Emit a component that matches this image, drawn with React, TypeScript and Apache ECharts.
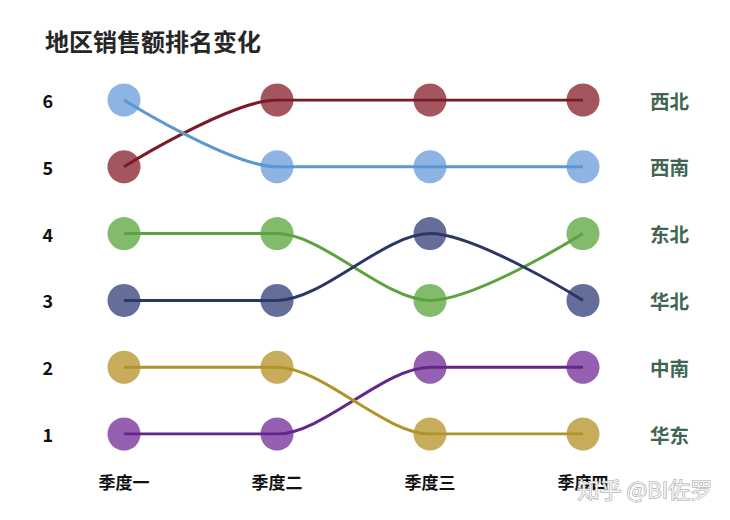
import React, { useEffect, useRef } from "react";
import * as echarts from "echarts";

// 季度与地区
const quarters = ["季度一", "季度二", "季度三", "季度四"];
const regions = ["西北", "西南", "东北", "华北", "中南", "华东"];

// 各地区每季度排名
const rankXiBei = [5, 6, 6, 6];
const rankXiNan = [6, 5, 5, 5];
const rankDongBei = [4, 4, 3, 4];
const rankHuaBei = [3, 3, 4, 3];
const rankZhongNan = [1, 1, 2, 2];
const rankHuaDong = [2, 2, 1, 1];

const ranks = [rankXiBei, rankXiNan, rankDongBei, rankHuaBei, rankZhongNan, rankHuaDong];

const lineColors = ["#7a1a26", "#5b98d2", "#5aa33f", "#2c3768", "#64258c", "#b0942a"];
const dotColors = ["#a3565d", "#8db4e3", "#82bb6c", "#656e9b", "#9660b2", "#c7ad5b"];

const font = "'Noto Sans CJK SC', 'Microsoft YaHei', sans-serif";

export default function App() {
	const chartRef = useRef<HTMLDivElement>(null);

	useEffect(() => {
		document.body.style.margin = "0";
		if (!chartRef.current) return;
		const chart = echarts.init(chartRef.current, undefined, { renderer: "svg" });

		// 圆点在下层
		const dotSeries = regions.map((name, i) => ({
			name: name + "-dot",
			type: "scatter" as const,
			data: ranks[i],
			symbolSize: 33,
			itemStyle: { color: dotColors[i], opacity: 1 },
			z: 1,
			silent: true,
		}));

		// 折线在上层
		const lineSeries = regions.map((name, i) => ({
			name,
			type: "line" as const,
			data: ranks[i],
			showSymbol: false,
			smooth: 0.3,
			smoothMonotone: "x",
			lineStyle: { color: lineColors[i], width: 3 },
			itemStyle: { color: lineColors[i] },
			z: 3,
			endLabel: {
				show: true,
				formatter: "{a}",
				distance: 67,
				color: "#3e6650",
				fontSize: 19.5,
				fontWeight: "bold",
				fontFamily: font,
			},
			silent: true,
		}));

		chart.setOption({
			animation: false,
			title: {
				text: "地区销售额排名变化",
				left: 40,
				top: 23,
				textStyle: { fontSize: 24, fontWeight: "bold", color: "#262626", fontFamily: font },
			},
			grid: { left: 124, right: 147, top: 100, bottom: 86 },
			xAxis: {
				type: "category",
				data: quarters,
				boundaryGap: false,
				axisLine: { show: false },
				axisTick: { show: false },
				axisLabel: { margin: 39, color: "#111", fontSize: 17, fontWeight: "bold", fontFamily: font },
				splitLine: { show: false },
			},
			yAxis: {
				type: "value",
				min: 1,
				max: 6,
				interval: 1,
				axisLine: { show: false },
				axisTick: { show: false },
				splitLine: { show: false },
				axisLabel: { margin: 71, color: "#111", fontSize: 18, fontWeight: "bold", fontFamily: font },
			},
			graphic: [
				{
					type: "text",
					left: 577,
					top: 476,
					z: 100,
					style: {
						text: "知乎 @BI佐罗",
						fontSize: 22,
						fontFamily: font,
						fill: "#f2f2f2",
						stroke: "#9a9a9a",
						lineWidth: 1,
					},
				},
			],
			series: [...dotSeries, ...lineSeries],
		});

		return () => {
			chart.dispose();
		};
	}, []);

	return <div ref={chartRef} style={{ width: 730, height: 520 }} />;
}
